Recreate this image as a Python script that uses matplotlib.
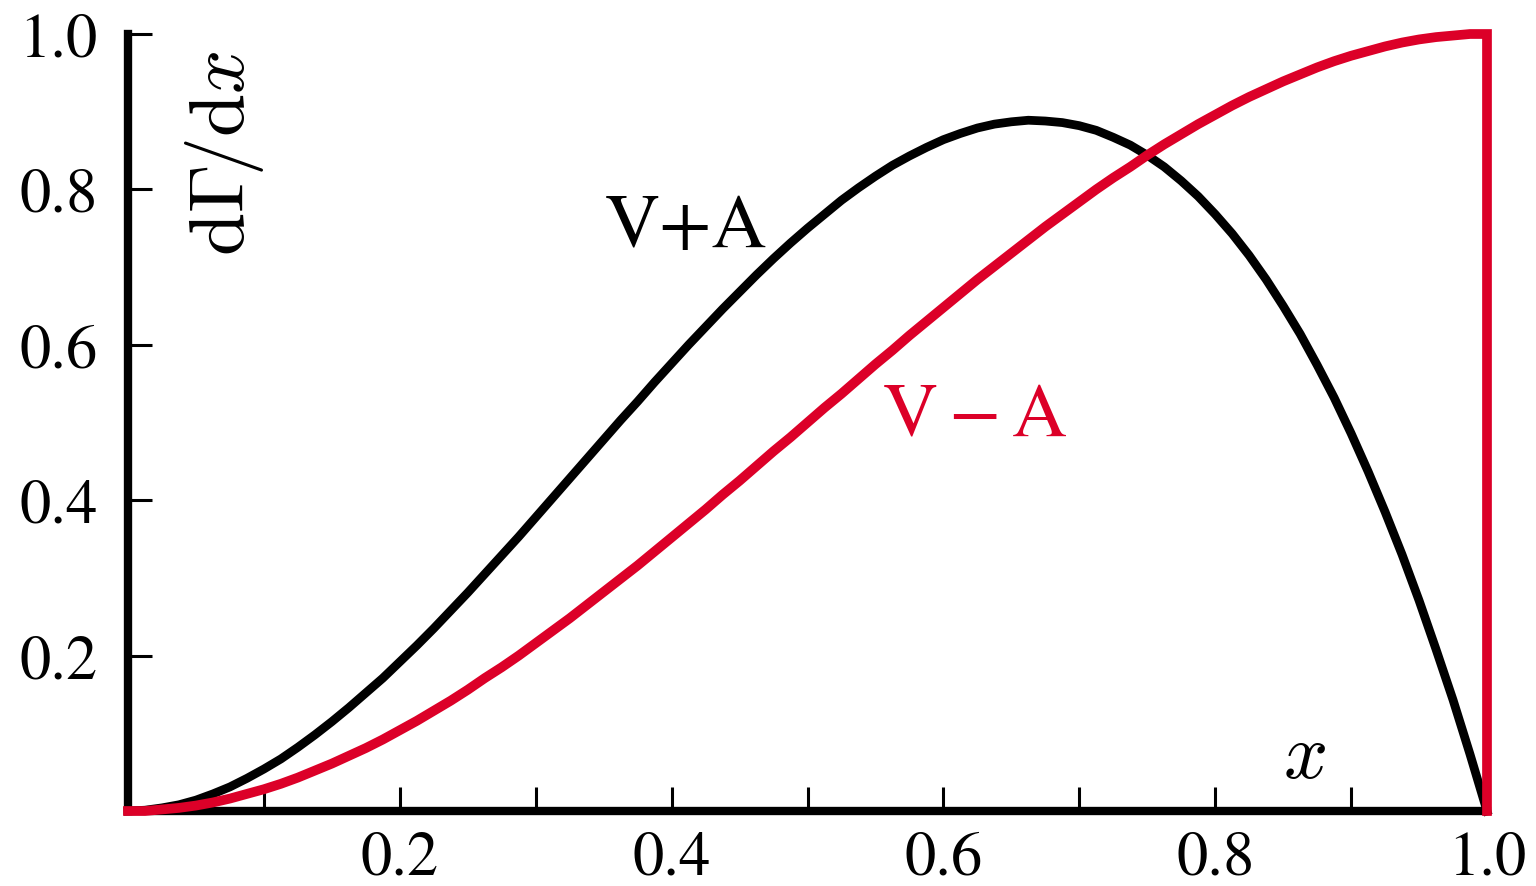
import matplotlib
matplotlib.use('Agg')
import matplotlib.pyplot as plt

# energy fraction x of the electron, sampled every 0.0125
x = [i * 0.0125 for i in range(81)]

# V+A spectrum
v_plus_a = [0.000, 0.001, 0.004, 0.008, 0.014, 0.022, 0.031, 0.042, 0.054, 0.067,
            0.082, 0.098, 0.115, 0.133, 0.152, 0.171, 0.192, 0.213, 0.235, 0.258,
            0.281, 0.305, 0.329, 0.353, 0.378, 0.403, 0.428, 0.453, 0.478, 0.503,
            0.527, 0.552, 0.576, 0.600, 0.623, 0.646, 0.668, 0.690, 0.711, 0.731,
            0.750, 0.768, 0.786, 0.802, 0.817, 0.831, 0.843, 0.854, 0.864, 0.872,
            0.879, 0.884, 0.887, 0.889, 0.888, 0.886, 0.882, 0.876, 0.867, 0.857,
            0.844, 0.829, 0.811, 0.791, 0.768, 0.743, 0.715, 0.684, 0.650, 0.614,
            0.574, 0.532, 0.486, 0.437, 0.385, 0.330, 0.271, 0.208, 0.143, 0.073,
            0.000]

# V-A spectrum (drops to zero at the endpoint)
v_minus_a = [0.000, 0.000, 0.002, 0.004, 0.007, 0.011, 0.016, 0.022, 0.028, 0.035,
             0.043, 0.052, 0.061, 0.071, 0.081, 0.092, 0.104, 0.116, 0.129, 0.142,
             0.156, 0.171, 0.185, 0.200, 0.216, 0.232, 0.248, 0.265, 0.282, 0.299,
             0.316, 0.334, 0.352, 0.370, 0.388, 0.407, 0.425, 0.444, 0.463, 0.481,
             0.500, 0.519, 0.537, 0.556, 0.575, 0.593, 0.612, 0.630, 0.648, 0.666,
             0.684, 0.701, 0.718, 0.735, 0.752, 0.768, 0.784, 0.800, 0.815, 0.829,
             0.844, 0.858, 0.871, 0.884, 0.896, 0.908, 0.919, 0.929, 0.939, 0.948,
             0.957, 0.965, 0.972, 0.978, 0.984, 0.989, 0.993, 0.996, 0.998, 1.000,
             1.000]
x_red = x + [1.0]
y_red = v_minus_a + [0.0]

xticks = [0.1, 0.2, 0.3, 0.4, 0.5, 0.6, 0.7, 0.8, 0.9, 1.0]
xticklabels = ['', '0.2', '', '0.4', '', '0.6', '', '0.8', '', '1.0']
yticks = [0.2, 0.4, 0.6, 0.8, 1.0]
yticklabels = ['0.2', '0.4', '0.6', '0.8', '1.0']

RED = '#dc0028'

plt.rcParams['font.family'] = 'STIXGeneral'
plt.rcParams['mathtext.fontset'] = 'stix'

fig = plt.figure(figsize=(15.36, 8.87), dpi=100)
ax = fig.add_axes([128 / 1536, 75 / 887, 1359 / 1536, 777 / 887])

ax.plot(x, v_plus_a, color='black', lw=6.3, clip_on=False, zorder=3)
ax.plot(x_red, y_red, color=RED, lw=7, clip_on=False, zorder=4,
        solid_joinstyle='miter')

ax.set_xlim(0, 1)
ax.set_ylim(0, 1)

ax.spines['top'].set_visible(False)
ax.spines['right'].set_visible(False)
ax.spines['left'].set_linewidth(6)
ax.spines['bottom'].set_linewidth(6)
ax.spines['left'].set_capstyle('projecting')
ax.spines['bottom'].set_capstyle('projecting')

ax.set_xticks(xticks)
ax.set_xticklabels(xticklabels)
ax.set_yticks(yticks)
ax.set_yticklabels(yticklabels)
ax.tick_params(axis='both', direction='in', length=17, width=2.2,
               labelsize=45, color='black')
ax.tick_params(axis='x', pad=14)
ax.tick_params(axis='y', pad=22)

ax.text(0.351, 0.727, 'V+A', fontsize=55, ha='left', va='baseline')
ax.text(0.555, 0.485, r'$\mathrm{V-A}$', fontsize=55, color=RED,
        ha='left', va='baseline')
ax.text(0.071, 0.848, r'$\mathrm{d}\Gamma\!/\mathrm{d}x$', fontsize=56,
        rotation=90, ha='center', va='center', math_fontfamily='cm')
ax.text(0.866, 0.067, r'$x$', fontsize=56, ha='center', va='center',
        math_fontfamily='cm')

fig.savefig('out.png', dpi=100)
